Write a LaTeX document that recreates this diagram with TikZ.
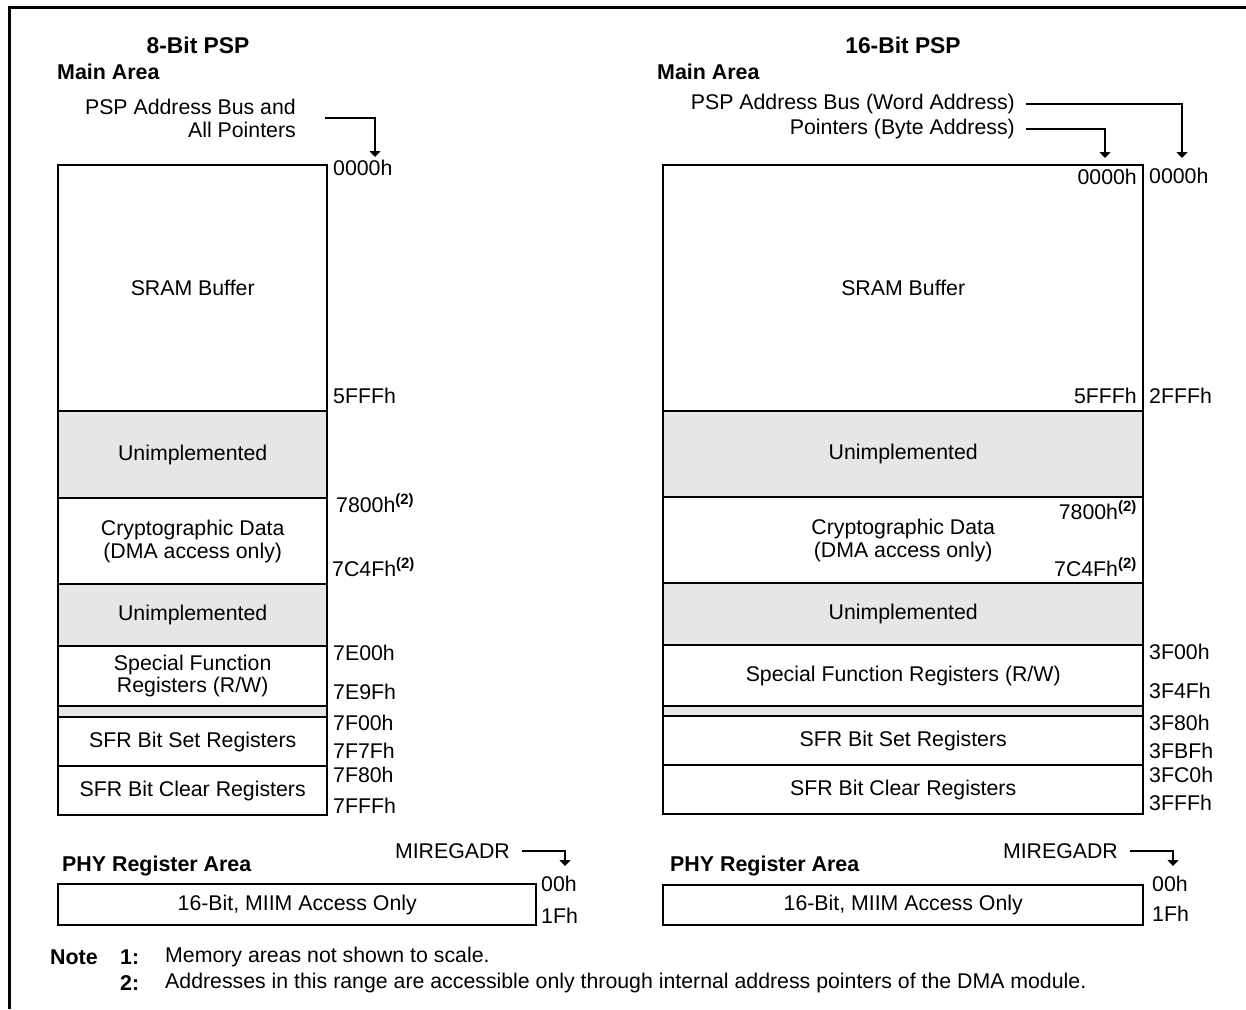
\documentclass[tikz,border=0pt]{standalone}
\usepackage{fontspec}
\setmainfont{Liberation Sans}
\usetikzlibrary{arrows.meta}
\definecolor{unimp}{RGB}{230,230,230}
\newcommand{\supn}{\textsuperscript{\textbf{(2)}}}
\begin{document}
\begin{tikzpicture}[x=1pt,y=-1pt,
  every node/.style={font=\fontsize{21.3}{23}\selectfont},
  region/.style={draw, line width=2.4pt, inner sep=0pt, anchor=north west, align=center},
  gray region/.style={region, fill=unimp},
  addr/.style={inner sep=0pt, anchor=west},
  addrin/.style={inner sep=0pt, anchor=east},
  title/.style={font=\fontsize{21.4}{23}\selectfont\bfseries, inner sep=0pt},
  big title/.style={font=\fontsize{22.8}{25}\selectfont\bfseries, inner sep=0pt},
  lbl/.style={inner sep=0pt, anchor=east, align=right},
  conn/.style={line width=2pt, -{Triangle[width=11pt,length=6pt]}},
  frame/.style={line width=3pt}]
\useasboundingbox (0,0) rectangle (1246,1009);
\draw[frame] (9,1009) -- (9,7) -- (1246,7);

% ---------------- 8-bit ----------------
\node[big title] (t8) at (198,45) {8-Bit PSP};
\node[title, anchor=west] (ma8) at (57,72) {Main Area};
\node[lbl] (bus8) at (296,118) {PSP Address Bus and\\All Pointers};
\coordinate (tip8) at (375,157);

\node[region, minimum width=269pt, minimum height=246pt] (sram8) at (57,164) {SRAM Buffer};
\node[gray region, minimum width=269pt, minimum height=87pt] (un8a) at (57,410) {Unimplemented};
\node[region, minimum width=269pt, minimum height=86pt] (cr8) at (57,497) {Cryptographic Data\\(DMA access only)};
\node[gray region, minimum width=269pt, minimum height=62pt] (un8b) at (57,583) {Unimplemented};
\node[region, minimum width=269pt, minimum height=60pt, font=\fontsize{21.3}{21.5}\selectfont] (sfr8) at (57,645) {Special Function\\Registers (R/W)};
\node[gray region, minimum width=269pt, minimum height=11pt] (gap8) at (57,705) {};
\node[region, minimum width=269pt, minimum height=49pt] (set8) at (57,716) {SFR Bit Set Registers};
\node[region, minimum width=269pt, minimum height=49pt] (clr8) at (57,765) {SFR Bit Clear Registers};

\node[addr] (a8a) at (333,168) {0000h};
\node[addr] (a8b) at (333,396) {5FFFh};
\node[addr] (a8c) at (336,503) {7800h\supn};
\node[addr] (a8d) at (332,567) {7C4Fh\supn};
\node[addr] (a8e) at (333,653) {7E00h};
\node[addr] (a8f) at (333,692) {7E9Fh};
\node[addr] (a8g) at (333,723) {7F00h};
\node[addr] (a8h) at (333,751) {7F7Fh};
\node[addr] (a8i) at (333,775) {7F80h};
\node[addr] (a8j) at (333,806) {7FFFh};

\draw[conn] ([xshift=29pt]bus8.east) -| (tip8);

% PHY 8
\node[title, anchor=west] (phy8t) at (62,866) {PHY Register Area};
\node[region, minimum width=478pt, minimum height=41pt] (phy8) at (57,883) {16-Bit, MIIM Access Only};
\node[lbl] (mi8) at (510,851) {MIREGADR};
\coordinate (tipm8) at (565,866);
\draw[conn] ([xshift=12pt]mi8.east) -| (tipm8);
\node[addr] (p8a) at (541,884) {00h};
\node[addr] (p8b) at (541,916) {1Fh};

% ---------------- 16-bit ----------------
\node[big title] (t16) at (903,45) {16-Bit PSP};
\node[title, anchor=west] (ma16) at (657,72) {Main Area};
\node[lbl] (bus16) at (1015,104) {PSP Address Bus (Word Address)};
\node[lbl] (ptr16) at (1015,129) {Pointers (Byte Address)};
\coordinate (tipb16) at (1182,158);
\coordinate (tipp16) at (1105,158);
\draw[conn] ([xshift=11pt]bus16.east) -| (tipb16);
\draw[conn] ([xshift=11pt]ptr16.east) -| (tipp16);

\node[region, minimum width=480pt, minimum height=246pt] (sram16) at (662,164) {SRAM Buffer};
\node[gray region, minimum width=480pt, minimum height=86pt] (un16a) at (662,410) {Unimplemented};
\node[region, minimum width=480pt, minimum height=86pt] (cr16) at (662,496) {Cryptographic Data\\(DMA access only)};
\node[gray region, minimum width=480pt, minimum height=62pt] (un16b) at (662,582) {Unimplemented};
\node[region, minimum width=480pt, minimum height=61pt] (sfr16) at (662,644) {Special Function Registers (R/W)};
\node[gray region, minimum width=480pt, minimum height=10pt] (gap16) at (662,705) {};
\node[region, minimum width=480pt, minimum height=49pt] (set16) at (662,715) {SFR Bit Set Registers};
\node[region, minimum width=480pt, minimum height=49pt] (clr16) at (662,764) {SFR Bit Clear Registers};

\node[addrin] (b16a) at (1137,177) {0000h};
\node[addrin] (b16b) at (1137,396) {5FFFh};
\node[addrin] (b16c) at (1137,510) {7800h\supn};
\node[addrin] (b16d) at (1137,567) {7C4Fh\supn};

\node[addr] (c16a) at (1149,176) {0000h};
\node[addr] (c16b) at (1149,396) {2FFFh};
\node[addr] (c16c) at (1149,652) {3F00h};
\node[addr] (c16d) at (1149,691) {3F4Fh};
\node[addr] (c16e) at (1149,723) {3F80h};
\node[addr] (c16f) at (1149,751) {3FBFh};
\node[addr] (c16g) at (1149,775) {3FC0h};
\node[addr] (c16h) at (1149,803) {3FFFh};

% PHY 16
\node[title, anchor=west] (phy16t) at (670,866) {PHY Register Area};
\node[region, minimum width=480pt, minimum height=40pt] (phy16) at (662,884) {16-Bit, MIIM Access Only};
\node[lbl] (mi16) at (1118,851) {MIREGADR};
\coordinate (tipm16) at (1173,866);
\draw[conn] ([xshift=12pt]mi16.east) -| (tipm16);
\node[addr] (p16a) at (1152,884) {00h};
\node[addr] (p16b) at (1152,914) {1Fh};

% Notes
\node[title, anchor=west] (note) at (50,957) {Note};
\node[title, anchor=west] (n1) at (120,957) {1:};
\node[title, anchor=west] (n2) at (120,983) {2:};
\node[addr] (n1t) at (165,957) {Memory areas not shown to scale.};
\node[addr] (n2t) at (165,983) {Addresses in this range are accessible only through internal address pointers of the DMA module.};
\end{tikzpicture}
\end{document}
